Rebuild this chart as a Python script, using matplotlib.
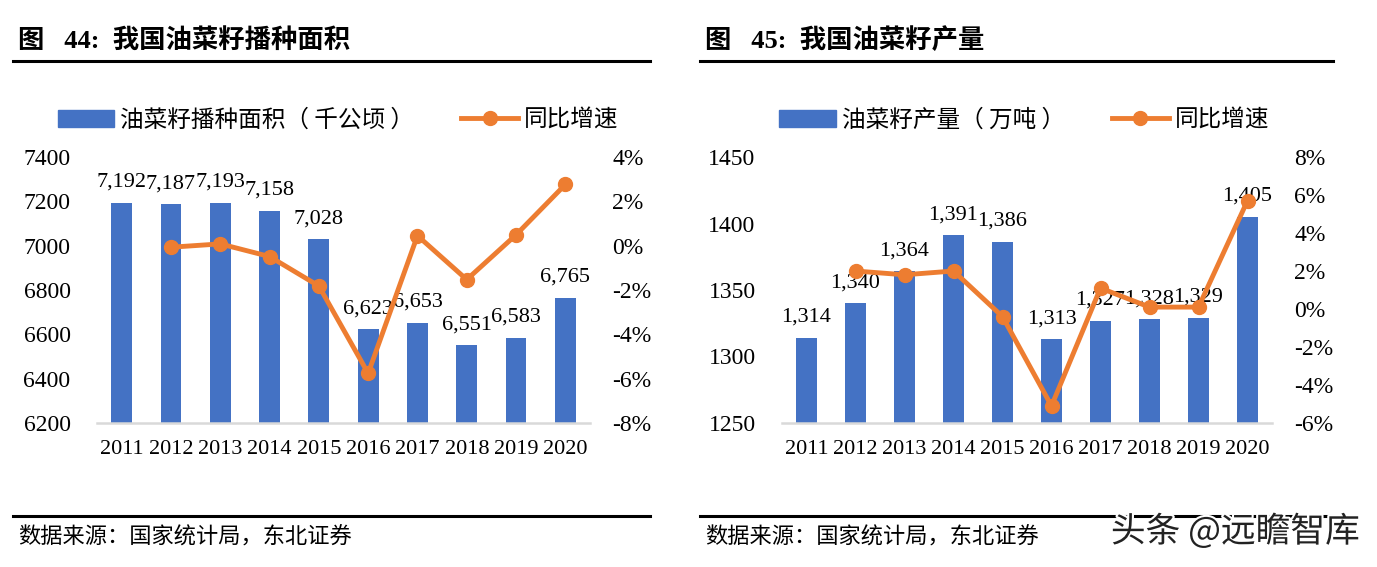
import matplotlib.pyplot as plt
import matplotlib.patheffects as pe
from matplotlib.lines import Line2D
from matplotlib.ticker import FuncFormatter

years = ['2011', '2012', '2013', '2014', '2015', '2016', '2017', '2018', '2019', '2020']

area = [7192, 7187, 7193, 7158, 7028, 6623, 6653, 6551, 6583, 6765]
area_yoy = [-0.07, 0.08, -0.49, -1.82, -5.76, 0.45, -1.53, 0.49, 2.76]

output = [1314, 1340, 1364, 1391, 1386, 1313, 1327, 1328, 1329, 1405]
output_yoy = [2.0, 1.8, 2.0, -0.4, -5.1, 1.1, 0.1, 0.1, 5.7]

BLUE = '#4472C4'
ORANGE = '#ED7D31'
NUM = ['Liberation Serif', 'Noto Sans CJK SC']
CJK = ['Noto Sans CJK SC', 'DejaVu Sans']

W, H = 1377, 567
fig = plt.figure(figsize=(W / 100, H / 100), dpi=100)


def fx(px):
    return px / W


def fy(py):
    return 1 - py / H


def panel(left, right, bars, yoy, ylim, y2lim, yticks, y2ticks, bar_name, leg_cx):
    ax = fig.add_axes([fx(left), fy(423), fx(right - left), fy(157) - fy(423)])
    x = range(len(years))
    ax.bar(x, bars, width=0.42, color=BLUE, zorder=2)
    ax.set_xlim(-0.5, len(years) - 0.5)
    ax.set_ylim(*ylim)
    ax.set_yticks(yticks)
    ax.set_xticks(list(x))
    ax.set_xticklabels(years)
    for s in ['top', 'left', 'right']:
        ax.spines[s].set_visible(False)
    ax.spines['bottom'].set_color('#D9D9D9')
    ax.spines['bottom'].set_linewidth(1.8)
    ax.tick_params(axis='both', length=0)
    ax.tick_params(axis='y', pad=19)
    ax.tick_params(axis='x', pad=12)
    for lab in ax.get_yticklabels():
        lab.set_family(NUM)
        lab.set_fontsize(17)
    for lab in ax.get_xticklabels():
        lab.set_family(NUM)
        lab.set_fontsize(16)
    for i, v in enumerate(bars):
        ax.annotate(f'{v:,}', (i, v), xytext=(0, 8), textcoords='offset points',
                    ha='center', va='bottom', fontsize=16, family=NUM)

    ax2 = ax.twinx()
    ax2.plot(range(1, len(years)), yoy, color=ORANGE, lw=3.5, marker='o', ms=10, zorder=3)
    ax2.set_ylim(*y2lim)
    ax2.set_yticks(y2ticks)
    ax2.yaxis.set_major_formatter(FuncFormatter(lambda v, p: f'{v:.0f}%'))
    for s in ['top', 'left', 'right', 'bottom']:
        ax2.spines[s].set_visible(False)
    ax2.tick_params(axis='y', length=0, pad=16)
    for lab in ax2.get_yticklabels():
        lab.set_family(NUM)
        lab.set_fontsize(17)

    handles = [plt.Rectangle((0, 0), 1, 1, color=BLUE),
               Line2D([0], [0], color=ORANGE, lw=3.5, marker='o', ms=10)]
    ax.legend(handles, [bar_name, '同比增速'], loc='center',
              bbox_to_anchor=(fx(leg_cx), fy(120)), bbox_transform=fig.transFigure,
              ncol=2, frameon=False, prop={'family': CJK, 'size': 17},
              handlelength=2.4, handletextpad=0.25, columnspacing=2.0)
    return ax


panel(97, 590, area, area_yoy, (6200, 7400), (-8, 4),
      range(6200, 7401, 200), range(-8, 5, 2), '油菜籽播种面积（ 千公顷 ）', 338)
panel(782, 1272, output, output_yoy, (1250, 1450), (-6, 8),
      range(1250, 1451, 50), range(-6, 9, 2), '油菜籽产量（ 万吨 ）', 1024)

# titles, rules and source notes
for x0, x1, title in [(13, 650, '图   44:  我国油菜籽播种面积'), (700, 1333, '图   45:  我国油菜籽产量')]:
    fig.text(fx(x0 + 5), fy(40), title, fontsize=19, fontweight='bold',
             family=['Liberation Serif', 'Noto Sans CJK SC'], va='center', ha='left')
    fig.add_artist(Line2D([fx(x0), fx(x1)], [fy(61), fy(61)], color='black', lw=2.2))
    fig.add_artist(Line2D([fx(x0), fx(x1)], [fy(516), fy(516)], color='black', lw=2.2))
    fig.text(fx(x0 + 5), fy(537), '数据来源：国家统计局，东北证券', fontsize=16,
             family=CJK, va='center', ha='left')

fig.text(fx(1360), fy(532), '头条 @远瞻智库', fontsize=25, family=CJK, color='#222222',
         ha='right', va='center',
         path_effects=[pe.withStroke(linewidth=3, foreground='white')])

fig.savefig('out.png', dpi=100)
